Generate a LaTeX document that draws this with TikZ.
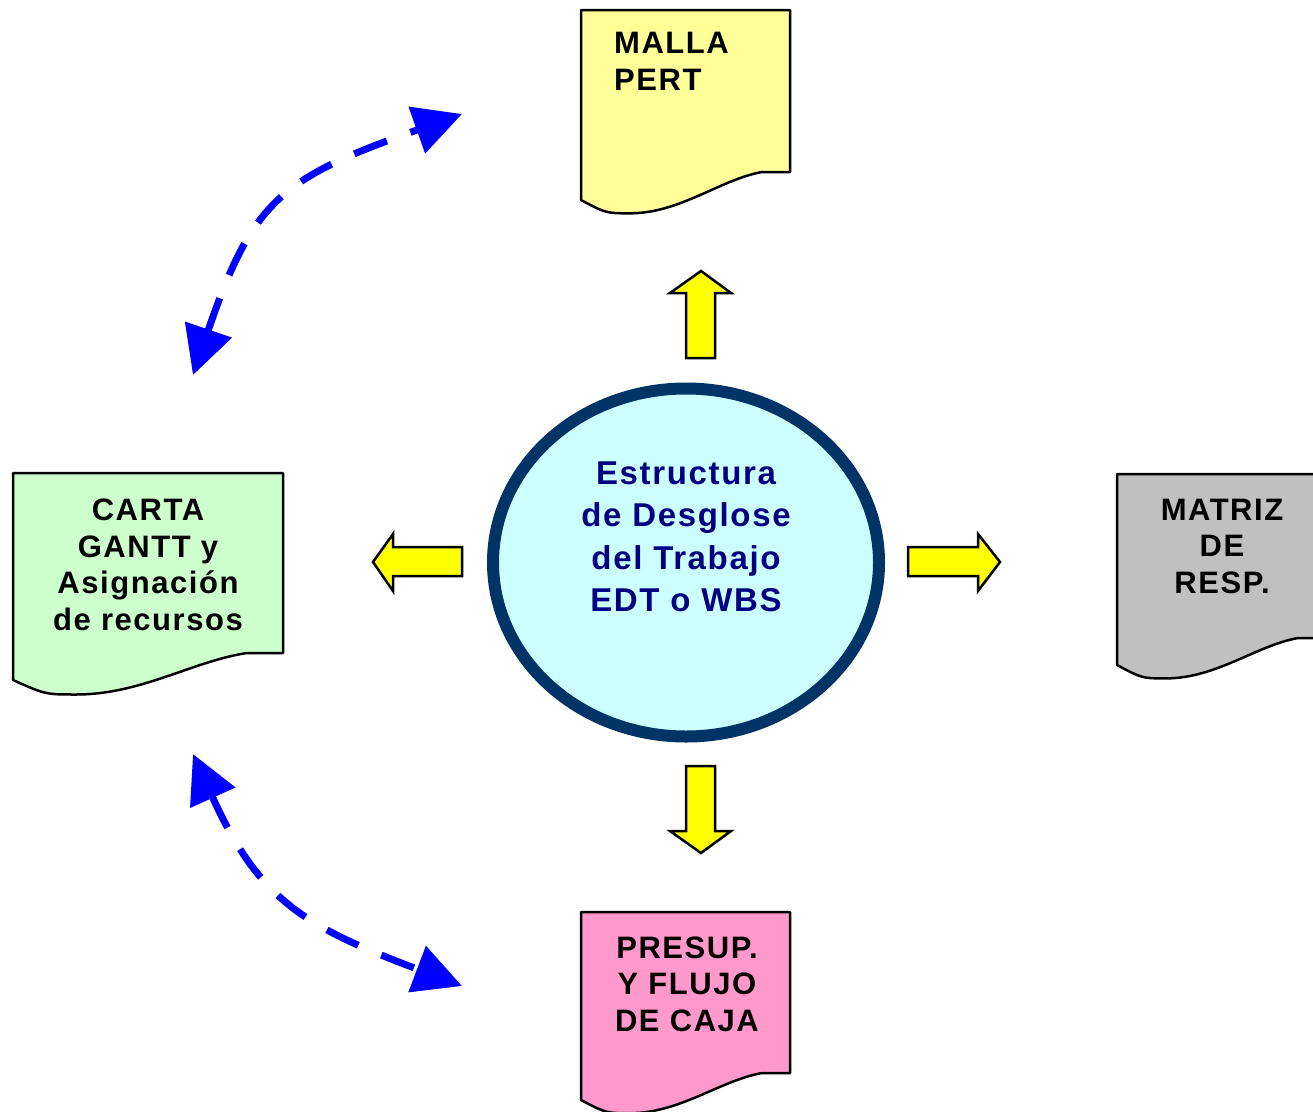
\documentclass[tikz,border=0pt]{standalone}
\usepackage{fontspec}
\setmainfont{Liberation Sans}
\newfontfamily\lblfont{Liberation Sans}[LetterSpace=5]
\usetikzlibrary{arrows.meta,shapes.geometric}
\definecolor{docyellow}{HTML}{FFFF99}
\definecolor{docgreen}{HTML}{CCFFCC}
\definecolor{docgray}{HTML}{C0C0C0}
\definecolor{docpink}{HTML}{FF99CC}
\definecolor{ellfill}{HTML}{CCFFFF}
\definecolor{ellborder}{HTML}{003366}
\definecolor{elltext}{HTML}{000080}
\definecolor{arrowblue}{HTML}{0000FF}
\definecolor{blockyellow}{HTML}{FFFF00}
\newcommand\docshape[6]{%
  \draw[#6] (#1,#2) -- ({#1+#3},#2) -- ({#1+#3},{#2+#5})
    -- ({#1+0.866*#3},{#2+#5})
    .. controls ({#1+0.665*#3},{#2+#5+0.04*#4}) and ({#1+0.474*#3},{#2+1.07*#4}) ..
    ({#1+0.235*#3},{#2+1.07*#4})
    .. controls ({#1+0.12*#3},{#2+1.07*#4}) .. (#1,{#2+#4}) -- cycle;}
\begin{document}
\begin{tikzpicture}[x=1pt,y=-1pt,
  docbox/.style={draw=black, line width=2.5pt, line join=round},
  doctext/.style={inner sep=0pt, text=black,
    font=\lblfont\bfseries\fontsize{31pt}{36.5pt}\selectfont},
  blockarrow/.style={draw=black, fill=blockyellow, line width=2.5pt, line join=miter},
  bluedash/.style={draw=arrowblue, line width=7pt, dash pattern=on 35pt off 25pt,
    {Triangle[length=48pt,width=48pt]}-{Triangle[length=48pt,width=48pt]}},
  ellipsebox/.style={ellipse, draw=ellborder, fill=ellfill, line width=12pt,
    minimum width=386pt, minimum height=348pt, inner sep=0pt},
  elltextstyle/.style={inner sep=0pt, text=elltext, align=center,
    font=\lblfont\bfseries\fontsize{33pt}{42.5pt}\selectfont}]
\useasboundingbox (0,0) rectangle (1313,1111);
\clip (0,0) rectangle (1313,1111);
\fill[white] (0,0) rectangle (1313,1111);

% documents
\docshape{581}{10}{209}{190}{162}{docbox, fill=docyellow}
\docshape{13}{473}{270}{207}{180}{docbox, fill=docgreen}
\docshape{1117}{474}{209}{191}{164}{docbox, fill=docgray}
\docshape{581}{912}{209}{188}{161}{docbox, fill=docpink}

\node[doctext, anchor=north west, align=left] (malla) at (614,32) {MALLA\\PERT};
\node[doctext, anchor=north, align=center] (gantt) at (148,499) {CARTA\\GANTT y\\Asignación\\de recursos};
\node[doctext, anchor=north, align=center] (matriz) at (1222,498.5) {MATRIZ\\DE\\RESP.};
\node[doctext, anchor=north, align=center] (presup) at (687,936.5) {PRESUP.\\Y FLUJO\\DE CAJA};

% central ellipse
\node[ellipsebox] (edt) at (686,562.5) {};
\node[elltextstyle, anchor=north] (edttxt) at (686,461.5) {Estructura\\de Desglose\\del Trabajo\\EDT o WBS};

% yellow block arrows
\draw[blockarrow] (686,358) -- (686,293) -- (670,293) -- (701,271) -- (731,293) -- (715,293) -- (715,358) -- cycle;
\draw[blockarrow] (686,766) -- (715,766) -- (715,831) -- (731,831) -- (701,853) -- (670,831) -- (686,831) -- cycle;
\draw[blockarrow] (462,547) -- (393,547) -- (393,534) -- (373,562) -- (393,591) -- (393,576) -- (462,576) -- cycle;
\draw[blockarrow] (908,547) -- (978,547) -- (978,534) -- (1000,562) -- (978,591) -- (978,576) -- (908,576) -- cycle;

% blue dashed double arrows
\coordinate (c1s) at (193,375);
\coordinate (c1e) at (462,114);
\coordinate (c2s) at (193,754);
\coordinate (c2e) at (462,986);
\draw[bluedash] (c1s) .. controls +(60,-176) and +(-180,64) .. (c1e);
\draw[bluedash] (c2s) .. controls +(66.5,147) and +(-157.5,-59.5) .. (c2e);
\end{tikzpicture}
\end{document}
